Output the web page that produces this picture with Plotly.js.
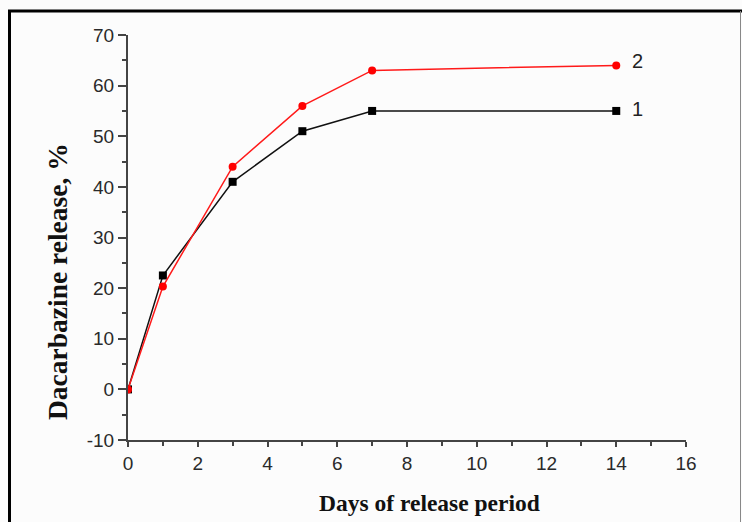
<!DOCTYPE html>
<html><head><meta charset="utf-8">
<script src="https://cdn.plot.ly/plotly-3.0.1.min.js"></script>
<style>html,body{margin:0;padding:0;background:#fff;}#c{width:742px;height:522px;}</style>
</head><body><div id="c"></div>
<script>
const days = [0, 1, 3, 5, 7, 14];
const series1 = [0, 22.5, 41, 51, 55, 55];
const series2 = [0, 20.3, 44, 56, 63, 64];
const seriesNames = ["1", "2"];
const xTickVals = [0, 2, 4, 6, 8, 10, 12, 14, 16];
const xTickText = ["0", "2", "4", "6", "8", "10", "12", "14", "16"];
const yTickVals = [-10, 0, 10, 20, 30, 40, 50, 60, 70];
const yTickText = ["-10", "0", "10", "20", "30", "40", "50", "60", "70"];
const xTitle = "Days of release period";
const yTitle = "Dacarbazine release, %";

const W = 742, H = 522, L = 128, R = 56, T = 35, B = 82;
const pw = W - L - R, ph = H - T - B;
const px = v => (v - L) / pw;
const py = v => (H - B - v) / ph;

const traces = [
  {x: days, y: series1, name: seriesNames[0], mode: 'lines+markers',
   line: {color: '#111', width: 1.5}, marker: {symbol: 'square', size: 8, color: '#000'}},
  {x: days, y: series2, name: seriesNames[1], mode: 'lines+markers',
   line: {color: '#ff1a1a', width: 1.5}, marker: {symbol: 'circle', size: 8, color: '#ff0000'}}
];

const tickFont = {family: 'Liberation Sans', size: 19, color: '#2a2a2a'};
const axisCommon = {ticks: 'outside', tickwidth: 2, tickcolor: '#444', tickmode: 'array',
  showline: true, linecolor: '#444', linewidth: 2, showgrid: false, zeroline: false, tickfont: tickFont};
const layout = {
  width: W, height: H, margin: {l: L, r: R, t: T, b: B},
  paper_bgcolor: '#fcfcfc', plot_bgcolor: '#fcfcfc', showlegend: false,
  xaxis: Object.assign({}, axisCommon, {range: [0, 16], ticklen: 5, tickvals: xTickVals, ticktext: xTickText,
          minor: {dtick: 1, tick0: 0, ticks: 'outside', ticklen: 4, tickwidth: 2, tickcolor: '#444', showgrid: false}}),
  yaxis: Object.assign({}, axisCommon, {range: [-10, 70], ticklen: 8, tickvals: yTickVals, ticktext: yTickText,
          minor: {dtick: 5, tick0: 0, ticks: 'outside', ticklen: 4, tickwidth: 2, tickcolor: '#444', showgrid: false}}),
  annotations: [
    {x: 14.6, y: series2[5], xref: 'x', yref: 'y', yshift: 4, text: seriesNames[1], showarrow: false, xanchor: 'center',
     font: {family: 'Liberation Sans', size: 20, color: '#222'}},
    {x: 14.6, y: series1[5], xref: 'x', yref: 'y', yshift: 2, text: seriesNames[0], showarrow: false, xanchor: 'center',
     font: {family: 'Liberation Sans', size: 20, color: '#222'}},
    {x: px(429), y: py(503), xref: 'paper', yref: 'paper', text: '<b>' + xTitle + '</b>', showarrow: false,
     xanchor: 'center', yanchor: 'middle', font: {family: 'Liberation Serif', size: 23.5, color: '#111'}},
    {x: px(57), y: py(282), xref: 'paper', yref: 'paper', text: '<b>' + yTitle + '</b>', showarrow: false, textangle: -90,
     xanchor: 'center', yanchor: 'middle', font: {family: 'Liberation Serif', size: 27.5, color: '#111'}}
  ],
  shapes: [
    {type: 'line', xref: 'paper', yref: 'paper', x0: px(9.5), x1: px(9.5), y0: py(10), y1: py(530), line: {color: '#000', width: 3}},
    {type: 'line', xref: 'paper', yref: 'paper', x0: px(8), x1: px(742), y0: py(11), y1: py(11), line: {color: '#000', width: 3}},
    {type: 'line', xref: 'paper', yref: 'paper', x0: px(740.5), x1: px(740.5), y0: py(11), y1: py(530), line: {color: '#888', width: 1}}
  ]
};
Plotly.newPlot('c', traces, layout, {displayModeBar: false, staticPlot: true});
</script></body></html>
